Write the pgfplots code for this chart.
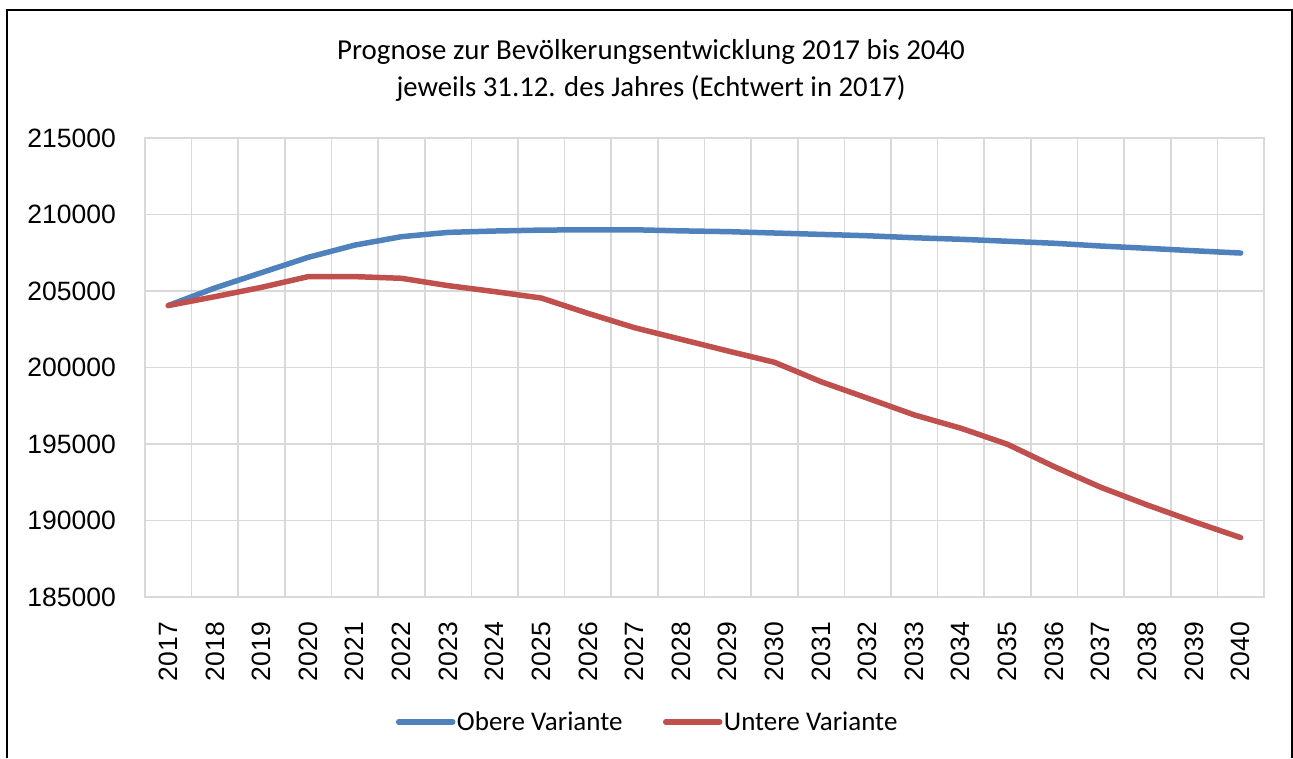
\documentclass[border=0pt]{standalone}
\usepackage{pgfplots}
\pgfplotsset{compat=1.18}
\usepackage{fontspec}
\setmainfont{Carlito}
\newfontfamily\arialfont{Liberation Sans}
\definecolor{obere}{HTML}{4F81BD}
\definecolor{untere}{HTML}{C0504D}
\definecolor{gridgray}{HTML}{D9D9D9}

\begin{document}
\begin{tikzpicture}
\useasboundingbox (0pt,0pt) rectangle (1293pt,758pt);
% outer frame (bottom edge is cut off in the reference)
\draw[line width=1.6pt] (7pt,0pt) -- (7pt,748pt) -- (1292pt,748pt) -- (1292pt,0pt);
% title
\node[anchor=base, font=\fontsize{28.9}{34}\selectfont] at (651pt,698pt) {Prognose zur Bevölkerungsentwicklung 2017 bis 2040};
\node[anchor=base, font=\fontsize{28.7}{34}\selectfont] at (651pt,661pt) {jeweils 31.12. des Jahres (Echtwert in 2017)};

\begin{axis}[
    at={(145pt,161pt)}, anchor=south west,
    scale only axis,
    width=1119pt, height=459pt,
    xmin=2016.5, xmax=2040.5,
    ymin=185000, ymax=215000,
    xtick={2017,...,2040},
    xticklabels={2017,2018,2019,2020,2021,2022,2023,2024,2025,2026,2027,2028,
                 2029,2030,2031,2032,2033,2034,2035,2036,2037,2038,2039,2040},
    minor xtick={2016.5,2017.5,...,2040.5},
    ytick={185000,190000,195000,200000,205000,210000,215000},
    yticklabels={185000,190000,195000,200000,205000,210000,215000},
    scaled y ticks=false,
    major tick length=0pt, minor tick length=0pt,
    xminorgrids=true, ymajorgrids=true,
    grid style={draw=gridgray, line width=1.6pt},
    minor grid style={draw=gridgray, line width=1.6pt},
    axis line style={draw=gridgray, line width=1.6pt},
    tick label style={font=\arialfont\fontsize{26.5}{30}\selectfont, inner sep=0pt},
    yticklabel style={xshift=-29pt},
    xticklabel style={yshift=-25pt, rotate=90, anchor=east},
    legend columns=2,
    legend style={at={(0.449,-0.272)}, anchor=center, draw=none, fill=none,
        font=\fontsize{27}{30}\selectfont,
        nodes={inner sep=1.5pt},
        /tikz/every even column/.append style={column sep=39pt}},
    legend image code/.code={\draw[#1, line width=5.5pt, line cap=round] (0pt,0pt) -- (54pt,0pt);},
    every axis plot/.append style={line width=5.5pt, line join=round, line cap=round},
]
\addplot[obere, no markers] coordinates {
(2017,204050) (2018,205200) (2019,206200) (2020,207200) (2021,208000) (2022,208550)
(2023,208830) (2024,208920) (2025,208980) (2026,209000) (2027,209000) (2028,208930)
(2029,208880) (2030,208790) (2031,208700) (2032,208610) (2033,208480) (2034,208380)
(2035,208250) (2036,208120) (2037,207940) (2038,207790) (2039,207630) (2040,207480)};
\addlegendentry{Obere Variante}
\addplot[untere, no markers] coordinates {
(2017,204050) (2018,204630) (2019,205240) (2020,205940) (2021,205940) (2022,205830)
(2023,205350) (2024,204960) (2025,204540) (2026,203540) (2027,202600) (2028,201840)
(2029,201080) (2030,200340) (2031,199070) (2032,197990) (2033,196900) (2034,196030)
(2035,194980) (2036,193520) (2037,192170) (2038,191010) (2039,189920) (2040,188880)};
\addlegendentry{Untere Variante}
\end{axis}
\end{tikzpicture}
\end{document}
